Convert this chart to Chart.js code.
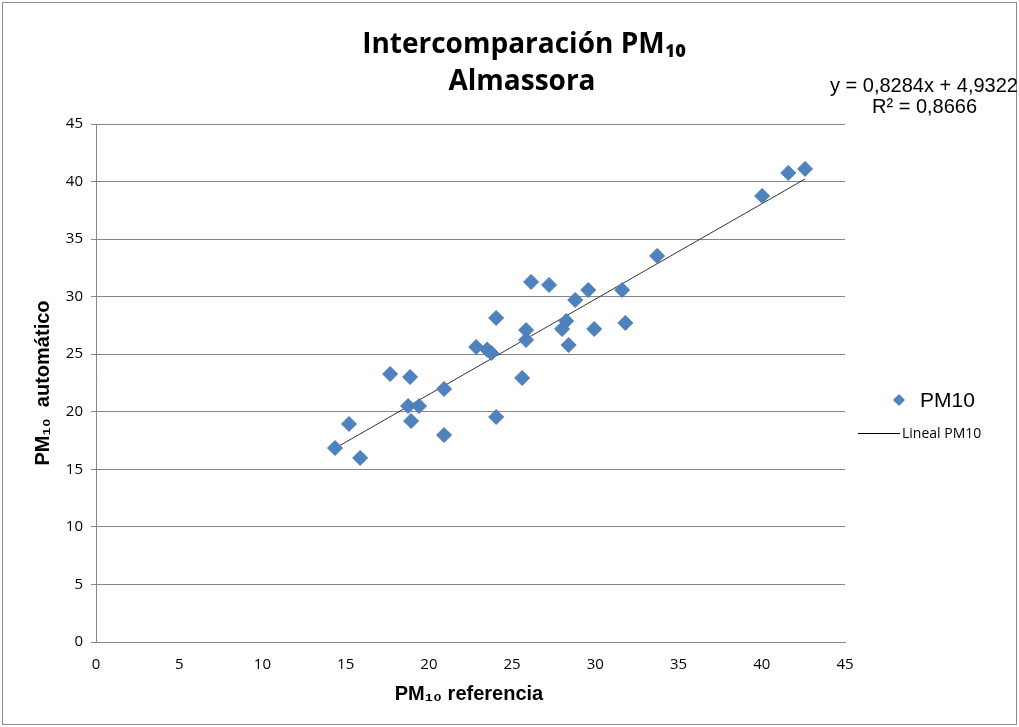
<!DOCTYPE html>
<html><head><meta charset="utf-8">
<script src="https://cdn.jsdelivr.net/npm/chart.js@4"></script>
<style>html,body{margin:0;padding:0;background:#fff}#wrap{width:1019px;height:727px}</style>
</head><body><div id="wrap"><canvas id="c" width="1019" height="727"></canvas></div>
<script>
const refValues = [14.36,15.2,15.87,17.67,18.87,18.75,18.93,19.41,20.91,20.91,22.84,23.5,23.75,24.04,24.04,25.6,25.84,25.84,26.14,27.22,28.0,28.25,28.4,28.79,29.57,29.93,31.61,31.8,33.71,40.02,41.59,42.6];
const autoValues = [16.85,18.94,15.99,23.28,23.02,20.5,19.2,20.5,21.98,17.98,25.63,25.4,25.1,28.15,19.55,22.94,27.1,26.24,31.28,31.02,27.19,27.89,25.8,29.71,30.58,27.19,30.58,27.72,33.54,38.75,40.75,41.1];
const slope = 0.8284, intercept = 4.9322, r2 = 0.8666;
const xTicks = [0,5,10,15,20,25,30,35,40,45];
const yTicks = [0,5,10,15,20,25,30,35,40,45];
const seriesName = 'PM10', trendName = 'Lineal PM10';

const pts = refValues.map((x,i)=>({x:x,y:autoValues[i]}));
const xmin = Math.min(...refValues), xmax = Math.max(...refValues);
const trend = [{x:xmin,y:slope*xmin+intercept},{x:xmax,y:slope*xmax+intercept}];

const NARROW = "'Liberation Sans Narrow','Open Sans',sans-serif";
const ARIAL = "'Liberation Sans',Arial,sans-serif";

const deco = {
  id:'deco',
  afterDraw(chart){
    const ctx = chart.ctx;
    ctx.save();
    ctx.strokeStyle = '#8c8c8c'; ctx.lineWidth = 1;
    ctx.strokeRect(2.5,2.5,1014,722);
    ctx.fillStyle = '#000';
    ctx.textAlign='center'; ctx.textBaseline='middle';
    ctx.font = "bold 28px "+NARROW;
    ctx.fillText('Intercomparación PM₁₀', 524, 45);
    ctx.fillText('Almassora', 522, 82);
    ctx.font = "20px "+ARIAL;
    ctx.textAlign='left';
    ctx.fillText('y = 0,8284x + 4,9322', 830, 86);
    ctx.fillText('R² = 0,8666', 872, 107);
    ctx.font = "bold 20px "+ARIAL;
    ctx.textAlign='center';
    ctx.fillText('PM₁₀ referencia', 469, 694);
    ctx.save();
    ctx.translate(43, 383); ctx.rotate(-Math.PI/2);
    ctx.fillText('PM₁₀  automático', 0, 0);
    ctx.restore();
    ctx.fillStyle = '#4F81BD';
    ctx.beginPath();
    ctx.moveTo(899,394); ctx.lineTo(905,400); ctx.lineTo(899,406); ctx.lineTo(893,400); ctx.closePath(); ctx.fill();
    ctx.fillStyle = '#000';
    ctx.textAlign='left';
    ctx.font = "21px "+ARIAL;
    ctx.fillText(seriesName, 920, 401);
    ctx.strokeStyle = '#000'; ctx.lineWidth=1;
    ctx.beginPath(); ctx.moveTo(858,433.5); ctx.lineTo(900,433.5); ctx.stroke();
    ctx.font = "14px "+NARROW;
    ctx.fillText(trendName, 902, 434);
    ctx.restore();
  }
};

new Chart(document.getElementById('c'), {
  data:{
    datasets:[
      {type:'scatter', label:seriesName, data:pts, pointStyle:'rectRot', pointRadius:7.5, pointHoverRadius:7.5,
       backgroundColor:'#4F81BD', borderColor:'#4A7EBB', borderWidth:1, order:1},
      {type:'line', label:trendName, data:trend, borderColor:'#333333', borderWidth:1, pointRadius:0, fill:false, order:2}
    ]
  },
  options:{
    responsive:false, animation:false, devicePixelRatio:1,
    layout:{padding:{left:0,right:174,top:124,bottom:0}},
    plugins:{legend:{display:false}, title:{display:false}, tooltip:{enabled:false}},
    scales:{
      x:{type:'linear', min:0, max:45,
         afterBuildTicks(s){s.ticks = xTicks.map(v=>({value:v}));},
         afterFit(s){s.height = 727-642;},
         grid:{display:false, drawTicks:false},
         border:{display:true, color:'#868686'},
         ticks:{padding:14, color:'#000', font:{family:NARROW, size:15}, maxRotation:0}
      },
      y:{type:'linear', min:0, max:45,
         afterBuildTicks(s){s.ticks = yTicks.map(v=>({value:v}));},
         afterFit(s){s.width = 96;},
         grid:{color:'#868686', lineWidth:1, tickLength:5, drawTicks:true},
         border:{display:true, color:'#868686'},
         ticks:{padding:8, color:'#000', font:{family:NARROW, size:15}}
      }
    }
  },
  plugins:[deco]
});
</script>
</body></html>
